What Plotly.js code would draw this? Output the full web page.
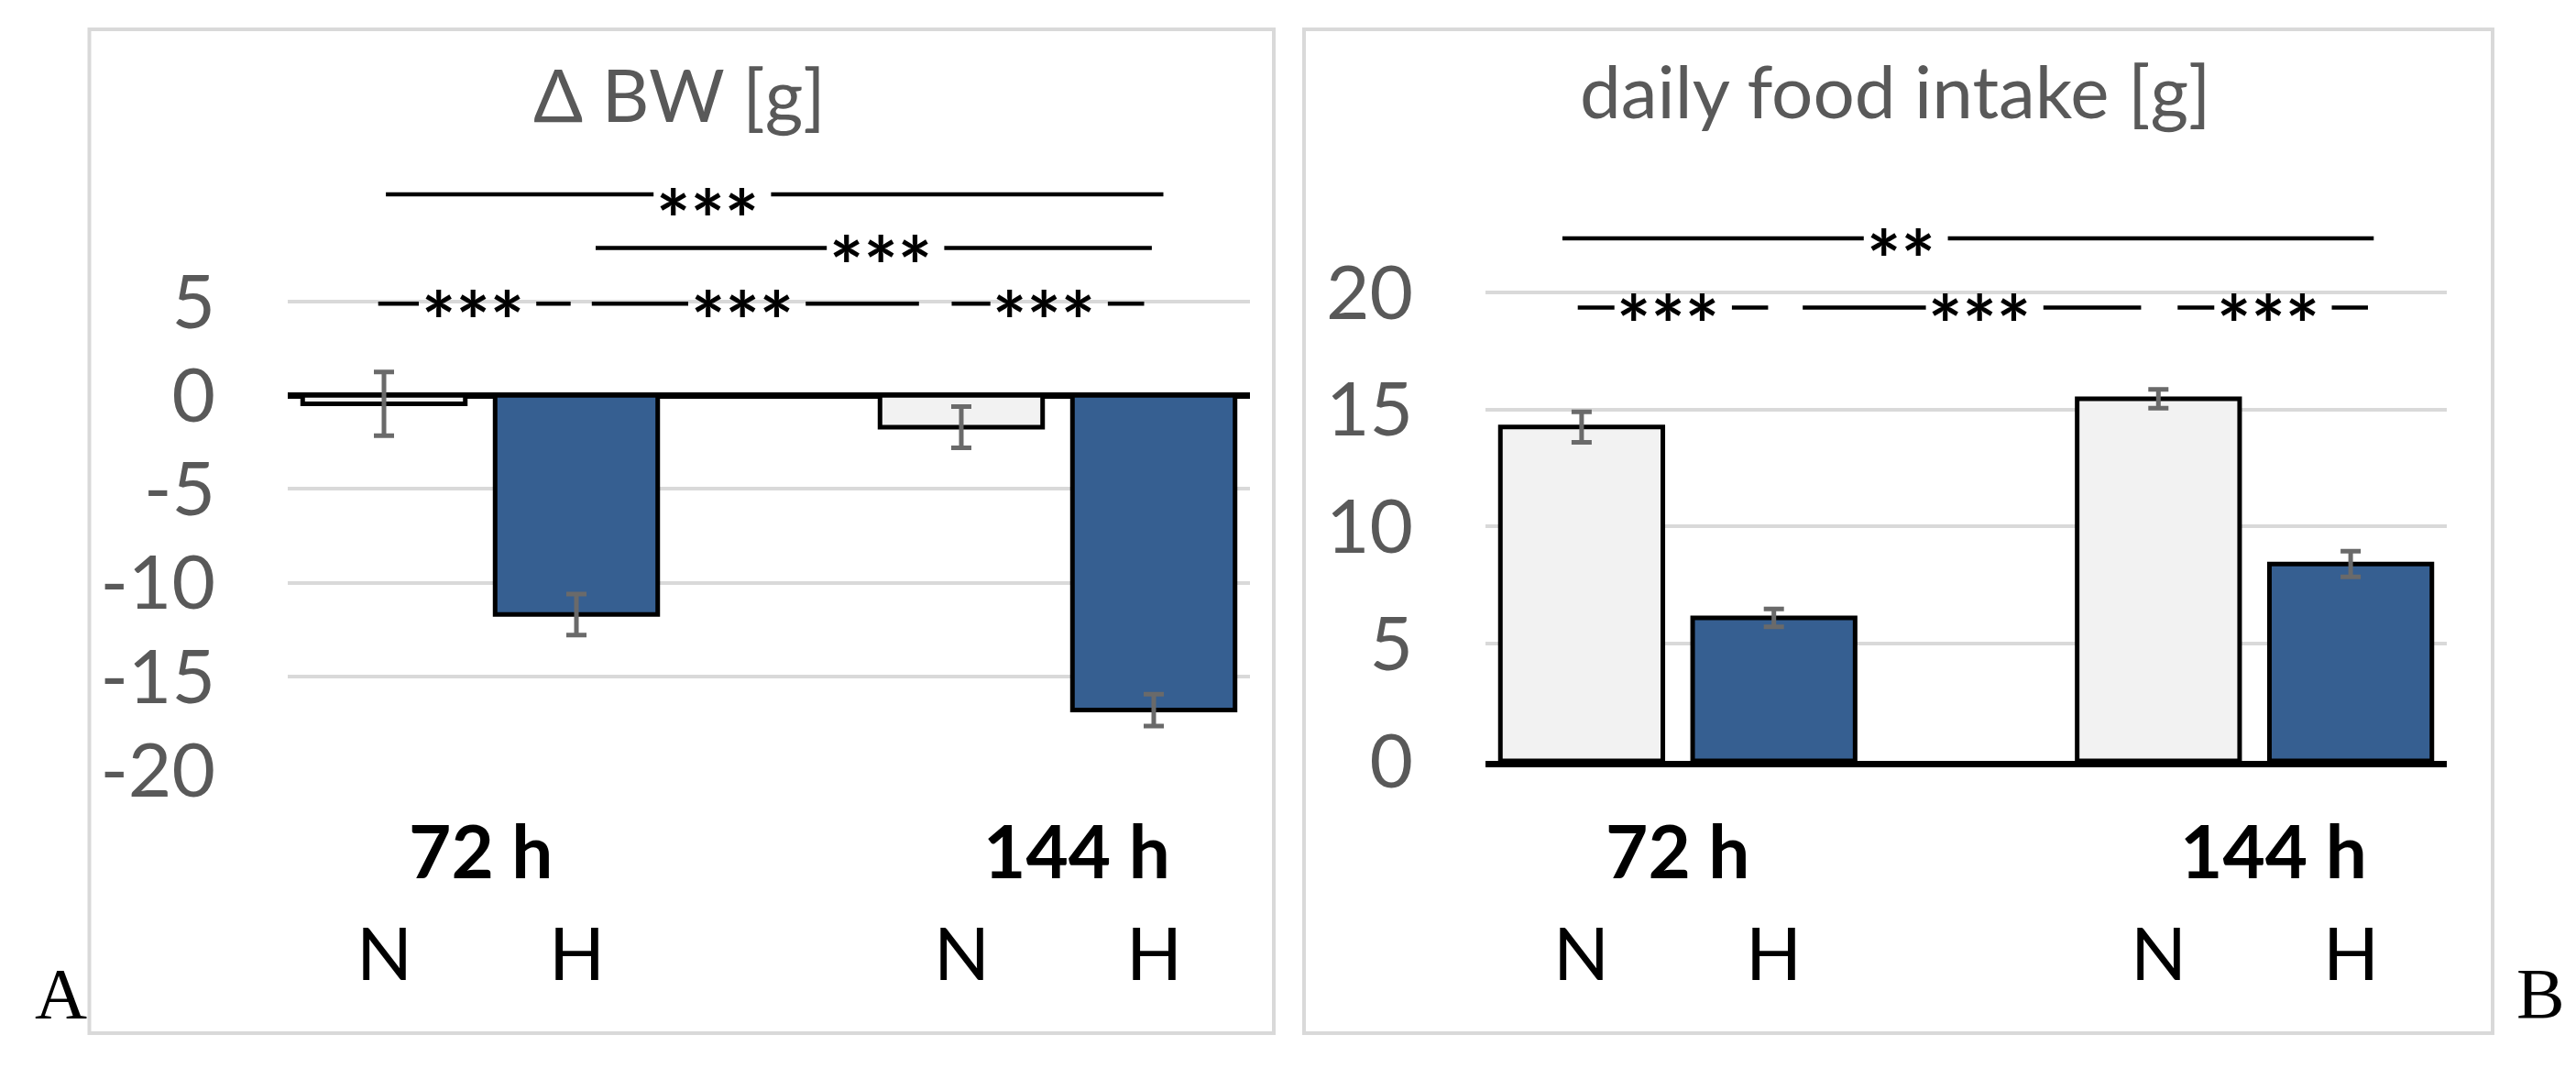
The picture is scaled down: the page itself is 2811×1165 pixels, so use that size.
<!DOCTYPE html>
<html>
<head>
<meta charset="utf-8">
<script src="https://cdn.plot.ly/plotly-3.0.1.min.js"></script>
<style>
  html, body { margin: 0; padding: 0; background: #fff; }
  #graph { width: 2811px; height: 1165px; }
</style>
</head>
<body>
<div id="graph"></div>
<script>
// bar groups (N = normoxia, H = hypoxia) and the two time points
const groups = ['N', 'H', 'N', 'H'];
const barSlot = [0, 1, 3, 4];
const periods = ['72 h', '144 h'];
const periodSlot = [0.5, 3.6];

// panel A: change of body weight [g]
const bwMean = [-0.45, -11.7, -1.7, -16.8];
const bwErr = [1.7, 1.1, 1.1, 0.85];
const bwTicks = [-20, -15, -10, -5, 0, 5];

// panel B: daily food intake [g]
const foodMean = [14.25, 6.1, 15.45, 8.4];
const foodErr = [0.65, 0.38, 0.4, 0.55];
const foodTicks = [0, 5, 10, 15, 20];

// significance brackets: from, to, level, star position, star level, label
const sigA = {
    from: [0.01, 1.10, -0.03, 1.08, 2.95],
    to: [4.05, 3.99, 0.97, 2.78, 3.95],
    level: [10.73, 7.87, 4.89, 4.89, 4.89],
    starX: [1.68, 2.58, 0.46, 1.86, 3.43],
    starY: [10.19, 7.71, 4.77, 4.77, 4.77],
    label: ['***', '***', '***', '***', '***']
};
const sigB = {
    from: [-0.10, -0.02, 1.15, 3.10],
    to: [4.12, 0.97, 2.91, 4.09],
    level: [22.3, 19.35, 19.35, 19.35],
    starX: [1.66, 0.45, 2.07, 3.57],
    starY: [22.04, 19.26, 19.26, 19.26],
    label: ['**', '***', '***', '***']
};

const W = 2811, H = 1165;
const FONT = 'Lato, Carlito, "Open Sans", sans-serif';
const SERIF = '"Liberation Serif", "Times New Roman", serif';
const GREY = '#595959';
const barColor = {N: '#f2f2f2', H: '#365f91'};

// plot boxes in page pixels
const boxA = {x0: 314, x1: 1364, y0: 186, y1: 840};
const boxB = {x0: 1621, x1: 2670, y0: 191, y1: 830};

function xDom(b) { return [b.x0 / W, b.x1 / W]; }
function yDom(b) { return [(H - b.y1) / H, (H - b.y0) / H]; }

function note(xref, yref, x, y, text, font, extra) {
    return Object.assign({xref, yref, x, y, text, font, showarrow: false,
                          xanchor: 'center', yanchor: 'middle'}, extra || {});
}

function barTrace(vals, errs, xa, ya) {
    return {
        type: 'bar',
        x: barSlot,
        y: vals,
        xaxis: xa,
        yaxis: ya,
        width: 0.845,
        marker: {
            color: groups.map((g) => barColor[g]),
            line: {color: '#000', width: 5}
        },
        error_y: {type: 'data', array: errs, visible: true, color: '#6a6a6a', thickness: 5, width: 11},
        hoverinfo: 'skip'
    };
}

function sigMarks(sig, xa, ya, box) {
    /** bracket lines broken round the stars, and the stars */
    const pxUnit = (box.x1 - box.x0) / 5;
    const shapes = [];
    const notes = [];
    sig.from.forEach((x0, i) => {
        const half = sig.label[i].length * 18.2;
        const gapL = sig.starX[i] - (half + 4) / pxUnit;
        const gapR = sig.starX[i] + (half + 15) / pxUnit;
        const base = {type: 'line', xref: xa, yref: ya, y0: sig.level[i], y1: sig.level[i],
                      line: {color: '#000', width: 4.5}};
        shapes.push(Object.assign({}, base, {x0: x0, x1: gapL}));
        shapes.push(Object.assign({}, base, {x0: gapR, x1: sig.to[i]}));
        notes.push(note(xa, ya, sig.starX[i], sig.starY[i], '<b>' + sig.label[i] + '</b>',
                        {family: FONT, size: 88, color: '#000'}, {yshift: -15}));
    });
    return {shapes, notes};
}

function groupLabels(xa) {
    const out = [];
    periods.forEach((p, i) => out.push(note(xa, 'paper', periodSlot[i], (H - 927) / H,
        '<b>' + p + '</b>', {family: FONT, size: 80, color: '#000'})));
    groups.forEach((g, i) => out.push(note(xa, 'paper', barSlot[i], (H - 1038) / H,
        g, {family: FONT, size: 80, color: '#000'})));
    return out;
}

const traces = [
    barTrace(bwMean, bwErr, 'x', 'y'),
    barTrace(foodMean, foodErr, 'x2', 'y2')
];

const sA = sigMarks(sigA, 'x', 'y', boxA);
const sB = sigMarks(sigB, 'x2', 'y2', boxB);

const yBase = {
    showgrid: true, gridcolor: '#d9d9d9', gridwidth: 4,
    tickfont: {family: FONT, size: 82, color: GREY},
    ticks: '', ticklabelstandoff: 78, showline: false, fixedrange: true
};
const xBase = {range: [-0.5, 4.5], showgrid: false, zeroline: false, showticklabels: false, ticks: '', fixedrange: true};

const layout = {
    width: W,
    height: H,
    margin: {l: 0, r: 0, t: 0, b: 0},
    paper_bgcolor: '#fff',
    plot_bgcolor: 'rgba(0,0,0,0)',
    showlegend: false,
    xaxis: Object.assign({}, xBase, {domain: xDom(boxA), anchor: 'y', showline: false}),
    yaxis: Object.assign({}, yBase, {domain: yDom(boxA), anchor: 'x', range: [-20, 12],
        tickvals: bwTicks, ticktext: bwTicks.map(String),
        zeroline: true, zerolinecolor: '#000', zerolinewidth: 7}),
    xaxis2: Object.assign({}, xBase, {domain: xDom(boxB), anchor: 'y2',
        showline: true, linecolor: '#000', linewidth: 7}),
    yaxis2: Object.assign({}, yBase, {domain: yDom(boxB), anchor: 'x2', range: [0, 25],
        tickvals: foodTicks, ticktext: foodTicks.map(String), zeroline: false}),
    shapes: [
        {type: 'rect', xref: 'paper', yref: 'paper', layer: 'below',
         x0: 97.5 / W, x1: 1390 / W, y0: (H - 1127) / H, y1: (H - 32) / H,
         line: {color: '#d9d9d9', width: 4}},
        {type: 'rect', xref: 'paper', yref: 'paper', layer: 'below',
         x0: 1423 / W, x1: 2720 / W, y0: (H - 1127) / H, y1: (H - 32) / H,
         line: {color: '#d9d9d9', width: 4}}
    ].concat(sA.shapes, sB.shapes),
    annotations: [
        note('paper', 'paper', 741 / W, (H - 102) / H, '\u0394 BW [g]', {family: FONT, size: 80, color: GREY}),
        note('paper', 'paper', 2068 / W, (H - 98) / H, 'daily food intake [g]', {family: FONT, size: 80, color: GREY}),
        note('paper', 'paper', 66 / W, (H - 1083) / H, 'A', {family: SERIF, size: 79, color: '#000'}),
        note('paper', 'paper', 2772 / W, (H - 1083) / H, 'B', {family: SERIF, size: 79, color: '#000'})
    ].concat(groupLabels('x'), groupLabels('x2'), sA.notes, sB.notes)
};

Plotly.newPlot('graph', traces, layout, {staticPlot: true, displayModeBar: false});
</script>
</body>
</html>
